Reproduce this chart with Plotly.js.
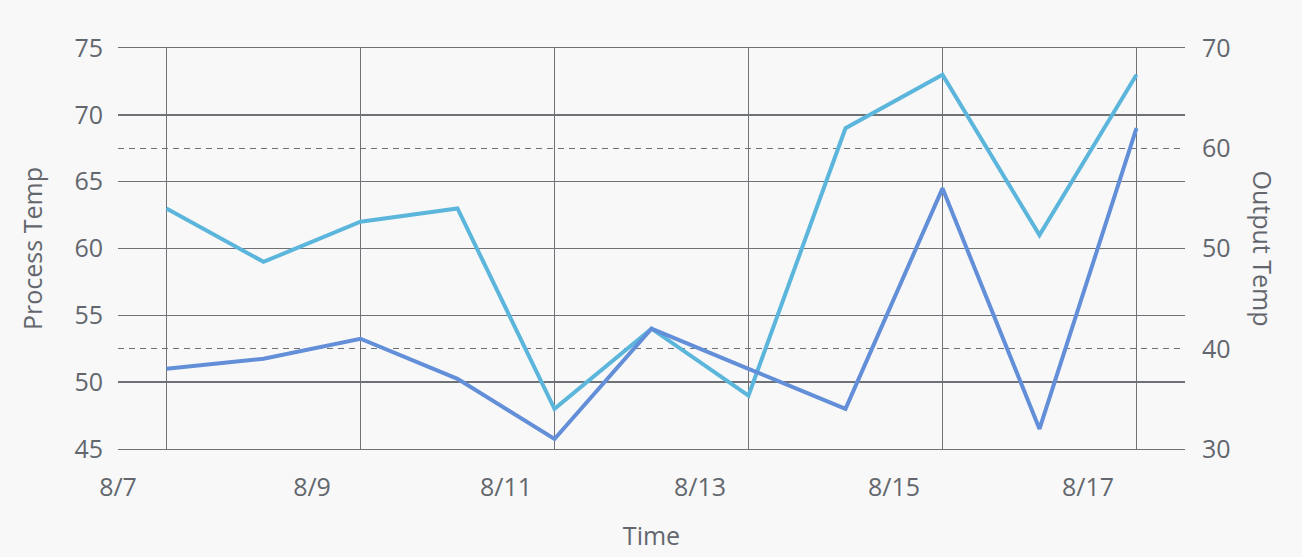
<!DOCTYPE html>
<html>
<head>
<meta charset="utf-8">
<script src="https://cdn.plot.ly/plotly-3.0.1.min.js"></script>
<style>
html,body{margin:0;padding:0;background:#f8f8f9;}
#chart{width:1302px;height:557px;}
</style>
</head>
<body>
<div id="chart"></div>
<script>
// Data
const times = ['2023-08-07 12:00','2023-08-08 12:00','2023-08-09 12:00','2023-08-10 12:00','2023-08-11 12:00','2023-08-12 12:00','2023-08-13 12:00','2023-08-14 12:00','2023-08-15 12:00','2023-08-16 12:00','2023-08-17 12:00'];
const processTemp = [63, 59, 62, 63, 48, 54, 49, 69, 73, 61, 73];
const outputTemp = [38, 39, 41, 37, 31, 42, 38, 34, 56, 32, 62];
const xTickVals = ['2023-08-07','2023-08-09','2023-08-11','2023-08-13','2023-08-15','2023-08-17'];
const xTickText = ['8/7','8/9','8/11','8/13','8/15','8/17'];
const xRange = ['2023-08-07','2023-08-18'];
const leftTicks = [45, 50, 55, 60, 65, 70, 75];
const rightTicks = [30, 40, 50, 60, 70];

const textColor = '#63676d';
const gridColor = '#6e7277';
const fontFamily = '"Open Sans", sans-serif';
const fs = 25;

// vertical grid at every other data time
const vGrid = times.filter((t, i) => i % 2 === 0);

const traces = [
  {x: times, y: processTemp, name: 'Process Temp', type: 'scatter', mode: 'lines',
   line: {color: '#5cb6dc', width: 4}, xaxis: 'x', yaxis: 'y', hoverinfo: 'skip'},
  {x: times, y: outputTemp, name: 'Output Temp', type: 'scatter', mode: 'lines',
   line: {color: '#628fd8', width: 4}, xaxis: 'x2', yaxis: 'y2', hoverinfo: 'skip'}
];

const layout = {
  width: 1302, height: 557,
  paper_bgcolor: '#f8f8f9', plot_bgcolor: '#f8f8f9',
  font: {family: fontFamily, color: textColor, size: fs},
  showlegend: false,
  margin: {l: 118, r: 117, t: 48, b: 108, pad: 0},
  xaxis: {
    type: 'date', range: xRange, tickmode: 'array', tickvals: xTickVals, ticktext: xTickText,
    showgrid: false, zeroline: false, showline: true, mirror: true, linecolor: gridColor, linewidth: 1.4,
    ticks: '', tickfont: {size: fs, color: textColor}, ticklabelstandoff: 16,
    title: {text: 'Time', font: {size: fs, color: textColor}, standoff: 25}
  },
  xaxis2: {
    type: 'date', range: xRange, overlaying: 'x', tickmode: 'array', tickvals: vGrid,
    showticklabels: false, showgrid: true, gridcolor: gridColor, gridwidth: 1.4,
    zeroline: false, showline: false, ticks: ''
  },
  yaxis: {
    range: [45, 75], tickmode: 'array', tickvals: leftTicks,
    showgrid: true, gridcolor: gridColor, gridwidth: 1.4, zeroline: false, showline: false,
    ticks: '', tickfont: {size: fs, color: textColor}, ticklabelstandoff: 14,
    title: {text: 'Process Temp', font: {size: fs, color: textColor}, standoff: 24}
  },
  yaxis2: {
    range: [30, 70], tickmode: 'array', tickvals: rightTicks, overlaying: 'y', side: 'right',
    anchor: 'x2',
    showgrid: true, gridcolor: gridColor, gridwidth: 1.4, griddash: '6px,5px', zeroline: false, showline: false,
    ticks: '', tickfont: {size: fs, color: textColor}, ticklabelstandoff: 16
  },
  annotations: [
    {text: 'Output Temp', xref: 'paper', yref: 'paper', x: 1, xshift: 78, y: 0.5,
     xanchor: 'center', yanchor: 'middle', textangle: 90, showarrow: false,
     font: {size: fs, color: textColor, family: fontFamily}}
  ]
};

Plotly.newPlot('chart', traces, layout, {displayModeBar: false, staticPlot: true});
</script>
</body>
</html>
